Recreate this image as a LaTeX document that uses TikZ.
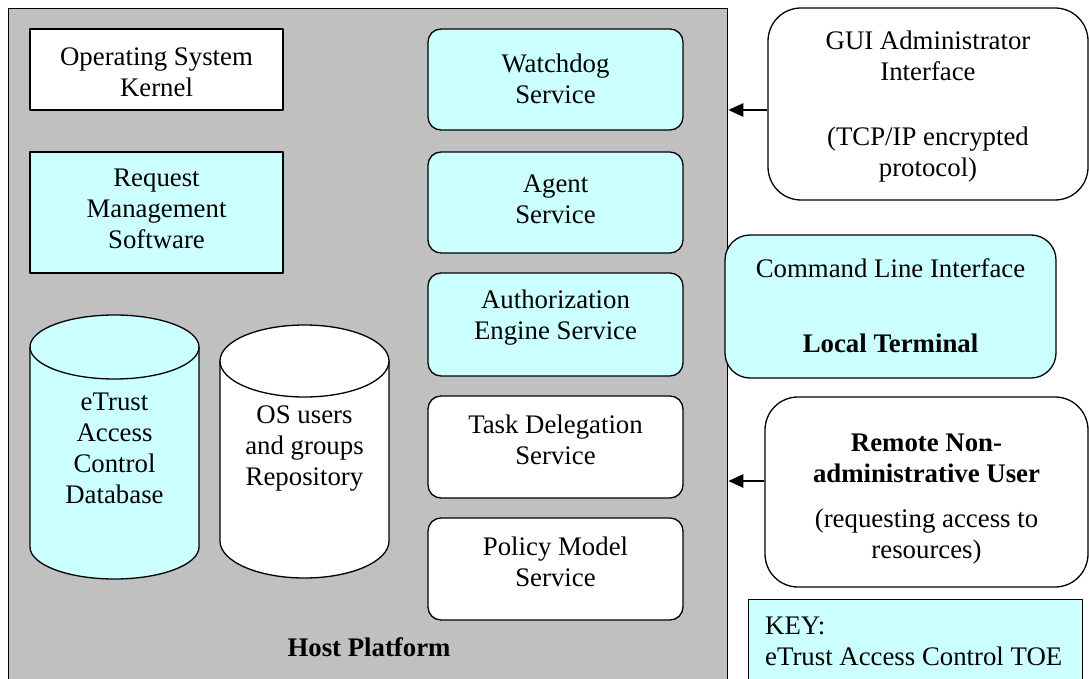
\documentclass[tikz,border=0pt]{standalone}
\usepackage{fontspec}
\setmainfont{Liberation Serif}
\usetikzlibrary{arrows.meta}
\definecolor{toe}{HTML}{CCFFFF}
\definecolor{hostgray}{HTML}{C0C0C0}
\begin{document}
\begin{tikzpicture}[x=1pt,y=-1pt,
  every node/.style={font=\fontsize{26.8pt}{31pt}\selectfont},
  frame/.style={draw=black,line width=1.3pt,line join=round},
  sqbox/.style={frame,rectangle,minimum width=253pt,inner sep=0pt},
  svcbox/.style={frame,rounded corners=13pt,minimum width=255pt,inner sep=0pt},
  extbox/.style={frame,rounded corners=33pt,inner sep=0pt},
  txt/.style={align=center,inner sep=0pt},
  arr/.style={line width=2.6pt,-{Triangle[length=15pt,width=13pt]}},
]
\useasboundingbox (0,0) rectangle (1089,679);

% host platform
\node[frame,fill=hostgray,minimum width=719pt,minimum height=720pt,anchor=north west,inner sep=0pt] (host) at (8,8) {};
\node[txt] (host-t) at (369,647) {\textbf{Host Platform}};

% left column
\node[sqbox,fill=white,minimum height=81pt] (kernel) at (156.5,69.5) {};
\node[txt] (kernel-t) at ([yshift=-2.5pt]kernel.center) {Operating System\\Kernel};
\node[sqbox,fill=toe,minimum height=121pt] (rms) at (156.5,212.5) {};
\node[txt] (rms-t) at ([yshift=3.5pt]rms.center) {Request\\Management\\Software};

% cylinders
\fill[toe] (30,347) -- (30,547) arc[start angle=180,end angle=0,x radius=84.5,y radius=32] -- (199,347) -- cycle;
\draw[frame] (30,347) -- (30,547) arc[start angle=180,end angle=0,x radius=84.5,y radius=32] -- (199,347);
\draw[frame,fill=toe] (114.5,347) ellipse[x radius=84.5,y radius=32];
\node[txt] (db-t) at (114.5,448) {eTrust\\Access\\Control\\Database};

\fill[white] (220,361) -- (220,541) arc[start angle=180,end angle=0,x radius=84.5,y radius=37] -- (389,361) -- cycle;
\draw[frame] (220,361) -- (220,541) arc[start angle=180,end angle=0,x radius=84.5,y radius=37] -- (389,361);
\draw[frame,fill=white] (304.5,361) ellipse[x radius=84.5,y radius=36];
\node[txt] (os-t) at (304.5,449) {OS users\\and groups\\Repository};

% services
\node[svcbox,fill=toe,minimum height=101pt] (wd) at (555.5,79.5) {};
\node[txt] (wd-t) at ([yshift=1pt]wd.center) {Watchdog\\Service};
\node[svcbox,fill=toe,minimum height=101pt] (agent) at (555.5,202.5) {};
\node[txt] (agent-t) at ([yshift=3.5pt]agent.center) {Agent\\Service};
\node[svcbox,fill=toe,minimum height=103pt] (auth) at (555.5,324.5) {};
\node[txt] (auth-t) at ([yshift=7pt]auth.center) {Authorization\\Engine Service};
\node[svcbox,fill=white,minimum height=102pt] (task) at (555.5,447) {};
\node[txt] (task-t) at ([yshift=7pt]task.center) {Task Delegation\\Service};
\node[svcbox,fill=white,minimum height=102pt] (pol) at (555.5,569) {};
\node[txt] (pol-t) at ([yshift=7pt]pol.center) {Policy Model\\Service};

% external boxes
\node[extbox,fill=white,minimum width=320pt,minimum height=192pt] (gui) at (928,104) {};
\node[txt] (gui-t) at ([yshift=-3pt]gui.center) {GUI Administrator\\Interface\\[34pt](TCP/IP encrypted\\protocol)};
\node[frame,rounded corners=25pt,inner sep=0pt,fill=toe,minimum width=331pt,minimum height=143pt] (cli) at (890.5,306.5) {};
\node[txt] (cli-t) at ([yshift=1pt]cli.center) {Command Line Interface\\[44pt]\textbf{Local Terminal}};
\node[extbox,fill=white,minimum width=323pt,minimum height=190pt] (rem) at (926.5,492) {};
\node[txt] (rem-t) at ([yshift=-7pt]rem.center) {\textbf{Remote Non-}\\\textbf{administrative User}\\[14pt](requesting access to\\resources)};
\node[frame,fill=toe,minimum width=334pt,minimum height=120pt,anchor=north west,inner sep=0pt] (key) at (748,599) {};
\node[align=left,inner sep=0pt,anchor=west] (key-t) at (765,641) {KEY:\\eTrust Access Control TOE};

% connectors
\coordinate (guiA) at ([yshift=-6pt]gui.west);
\draw[arr] (guiA) -- (guiA -| host.east);
\coordinate (remA) at ([yshift=11pt]rem.west);
\draw[arr] (remA) -- (remA -| host.east);
\end{tikzpicture}
\end{document}
